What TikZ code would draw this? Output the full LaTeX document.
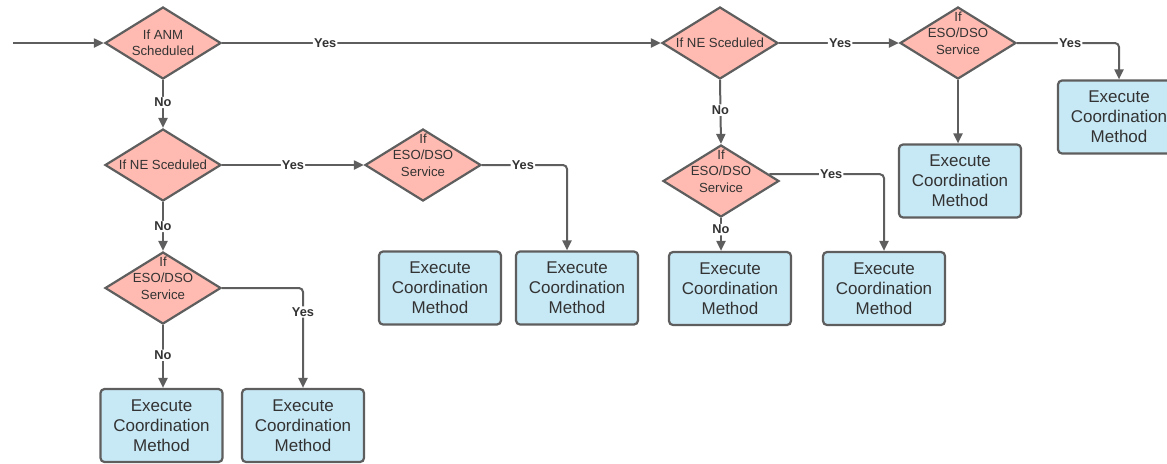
\documentclass[tikz,border=0pt]{standalone}
\usepackage{fontspec}
\setmainfont{Liberation Sans}
\usetikzlibrary{shapes.geometric,arrows.meta}
\definecolor{dfill}{HTML}{FFBBB1}
\definecolor{bfill}{HTML}{C7E8F5}
\definecolor{edgec}{HTML}{5E5E5E}
\definecolor{txt}{HTML}{333333}
\tikzset{
 dia/.style={diamond, draw=edgec, fill=dfill, line width=1.1pt, inner sep=0pt, minimum width=58pt, minimum height=36pt},
 dtext/.style={align=center, font=\fontsize{6.6}{8.2}\selectfont, text=txt, inner sep=0pt},
 box/.style={rectangle, rounded corners=2pt, draw=edgec, fill=bfill, line width=1.1pt, minimum width=61pt, minimum height=36.5pt, align=center, font=\fontsize{8.5}{10}\selectfont, text=txt, inner sep=0pt},
 conn/.style={draw=edgec, line width=1pt, rounded corners=2pt, -{Triangle[length=5pt,width=4.5pt]}},
 lbl/.style={fill=white, font=\bfseries\fontsize{6.4}{7}\selectfont, text=txt, inner sep=0.6pt},
}
\begin{document}
\begin{tikzpicture}[x=0.5pt,y=-0.5pt]
\useasboundingbox (0,0) rectangle (1167,463);
\clip (0,0) rectangle (1167,463);
% diamonds
\node[dia] (D1) at (163,43) {};
\node[dtext] (D1t) at (D1.center) {If ANM\\Scheduled};
\node[dia] (D3) at (163,165) {};
\node[dtext] (D3t) at (D3.center) {If NE Sceduled};
\node[dia] (D5) at (163,288) {};
\node[dtext] (D5t) at ([yshift=5pt]D5.center) {If\\ESO/DSO\\Service};
\node[dia] (D4) at (423,165) {};
\node[dtext] (D4t) at ([yshift=5pt]D4.center) {If\\ESO/DSO\\Service};
\node[dia] (D6) at (720,43) {};
\node[dtext] (D6t) at (D6.center) {If NE Sceduled};
\node[dia] (D7) at (958,43) {};
\node[dtext] (D7t) at ([yshift=5pt]D7.center) {If\\ESO/DSO\\Service};
\node[dia] (D8) at (721,181) {};
\node[dtext] (D8t) at ([yshift=5pt]D8.center) {If\\ESO/DSO\\Service};
% boxes
\node[box] (B1) at (440,288) {Execute\\Coordination\\Method};
\node[box] (B2) at (577,288) {Execute\\Coordination\\Method};
\node[box] (B3) at (161.5,425.5) {Execute\\Coordination\\Method};
\node[box] (B4) at (303,425.5) {Execute\\Coordination\\Method};
\node[box] (B5) at (960,181) {Execute\\Coordination\\Method};
\node[box] (B6) at (1119,117) {Execute\\Coordination\\Method};
\node[box] (B7) at (730,288.5) {Execute\\Coordination\\Method};
\node[box] (B8) at (884,288.5) {Execute\\Coordination\\Method};
% connectors
\coordinate (start) at (13,43);
\draw[conn] (start) -- (D1.west);
\draw[conn] (D1.east) -- node[lbl,pos=0.235] {Yes} (D6.west);
\draw[conn] (D1.south) -- node[lbl,pos=0.47] {No} (D3.north);
\draw[conn] (D3.east) -- node[lbl,pos=0.5] {Yes} (D4.west);
\draw[conn] (D3.south) -- node[lbl,pos=0.5] {No} (D5.north);
\draw[conn] (D5.south) -- node[lbl,pos=0.48] {No} (B3.north -| D5.south);
\draw[conn] (D5.east) -| node[lbl,pos=0.62] {Yes} (B4.north);
\draw[conn] (D4.east) -| node[lbl,pos=0.24] {Yes} ([xshift=-5pt]B2.north);
\draw[conn] (D6.east) -- node[lbl,pos=0.51] {Yes} (D7.west);
\draw[conn] (D6.south) -- node[lbl,pos=0.47] {No} (D8.north);
\draw[conn] (D7.south) -- (D7.south |- B5.north);
\draw[conn] (D7.east) -| node[lbl,pos=0.26] {Yes} (B6.north);
\draw[conn] (D8.south) -- node[lbl,pos=0.35] {No} (D8.south |- B7.north);
\draw[conn] (D8.8.5) -| node[lbl,pos=0.27] {Yes} (B8.north);
\end{tikzpicture}
\end{document}
